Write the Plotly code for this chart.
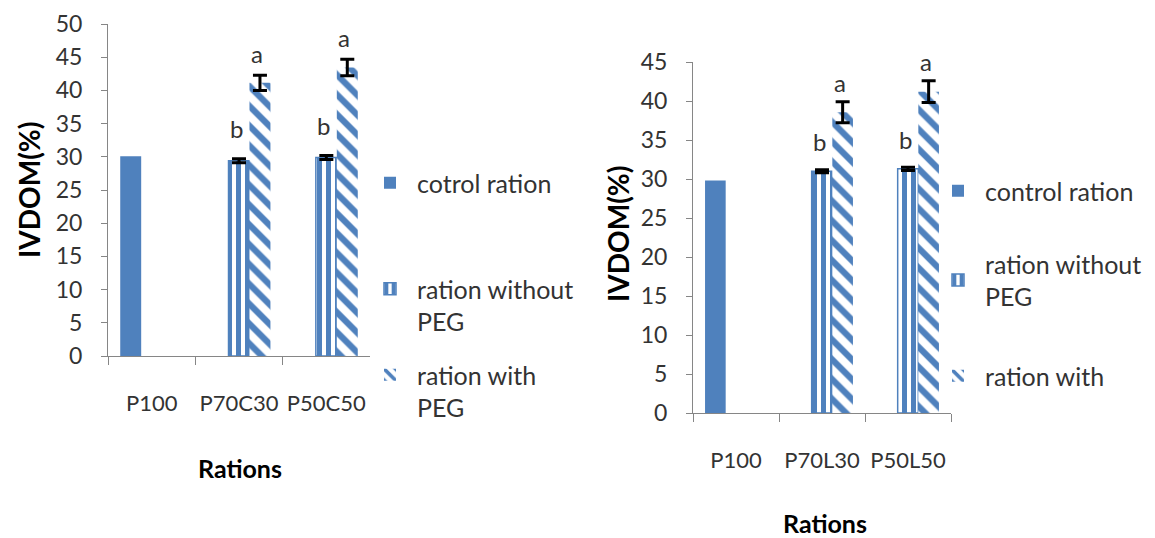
import plotly.graph_objects as go

# ---------------- data ----------------
categories_c = ["P100", "P70C30", "P50C50"]
categories_l = ["P100", "P70L30", "P50L50"]

control_c = [30.1, None, None]
without_c = [None, 29.4, 29.9]
without_c_err = [0, 0.3, 0.3]
with_c = [None, 41.15, 43.45]
with_c_err = [0, 1.15, 1.25]

control_l = [29.8, None, None]
without_l = [None, 31.0, 31.3]
without_l_err = [0, 0.2, 0.2]
with_l = [None, 38.55, 41.2]
with_l_err = [0, 1.35, 1.4]

letters_without = [None, "b", "b"]
letters_with = [None, "a", "a"]

names_c = ["cotrol ration", "ration without<br>PEG", "ration with<br>PEG"]
names_l = ["control ration", "ration without<br>PEG", "ration with"]

BLUE = "#4F81BD"
AX = "#868686"
TXT = "#333333"
FONT = "Lato"

fig = go.Figure()

def add_group(cats, ctrl, wo, wo_err, wi, wi_err, names, xa, ya, legs):
    fig.add_trace(go.Bar(x=cats, y=ctrl, name=names[0], marker=dict(color=BLUE, line=dict(width=0)),
                         xaxis=xa, yaxis=ya, legend=legs[0]))
    fig.add_trace(go.Bar(x=cats, y=wo, name=names[1],
                         marker=dict(color="white", line=dict(color=BLUE, width=1.5),
                                     pattern=dict(shape="|", fgcolor=BLUE, bgcolor="white", fgopacity=1,
                                                  size=9, solidity=0.55, fillmode="replace")),
                         error_y=dict(type="data", array=wo_err, color="black", thickness=3, width=7),
                         xaxis=xa, yaxis=ya, legend=legs[1]))
    fig.add_trace(go.Bar(x=cats, y=wi, name=names[2],
                         marker=dict(color="white", line=dict(width=0),
                                     pattern=dict(shape="\\", fgcolor=BLUE, bgcolor="white", fgopacity=1,
                                                  size=14, solidity=0.45, fillmode="replace")),
                         error_y=dict(type="data", array=wi_err, color="black", thickness=3, width=7),
                         xaxis=xa, yaxis=ya, legend=legs[2]))

add_group(categories_c, control_c, without_c, without_c_err, with_c, with_c_err, names_c,
          "x", "y", ["legend", "legend2", "legend3"])
add_group(categories_l, control_l, without_l, without_l_err, with_l, with_l_err, names_l,
          "x2", "y2", ["legend4", "legend5", "legend6"])

W, H = 1155, 538
def px_x(p):
    return p / W
def px_y(p):
    return 1 - p / H

xcommon = dict(type="category", showline=True, linecolor=AX, linewidth=1, ticks="outside",
               tickson="boundaries", ticklen=8, tickcolor=AX, showgrid=False, zeroline=False,
               tickfont=dict(family=FONT, size=22, color=TXT), ticklabelstandoff=28, tickangle=0,
               range=[-0.5, 2.5], automargin=False)
ycommon = dict(showline=True, linecolor=AX, linewidth=1, ticks="outside", ticklen=6, tickcolor=AX,
               showgrid=False, zeroline=False, dtick=5, tickfont=dict(family=FONT, size=23, color=TXT),
               ticklabelstandoff=14, automargin=False)

bargap = 0.28
slot = (1 - bargap) / 3

annotations = []
def letters(cats_len, wo, wo_err, wi, wi_err, xa, ya, ashift, bshift):
    for i in range(cats_len):
        if letters_without[i] and wo[i] is not None:
            annotations.append(dict(x=i, y=wo[i] + wo_err[i], xref=xa, yref=ya, text=letters_without[i],
                                    showarrow=False, yshift=bshift, xshift=-3,
                                    font=dict(family=FONT, size=24, color=TXT)))
        if letters_with[i] and wi[i] is not None:
            annotations.append(dict(x=i + slot, y=wi[i] + wi_err[i], xref=xa, yref=ya, text=letters_with[i],
                                    showarrow=False, yshift=ashift, xshift=-3,
                                    font=dict(family=FONT, size=24, color=TXT)))

letters(3, without_c, without_c_err, with_c, with_c_err, "x", "y", 22, 30)
letters(3, without_l, without_l_err, with_l, with_l_err, "x2", "y2", 19, 28)

titlefont = dict(family=FONT, size=25, color="black", weight="bold")
def title_ann(text, xp, yp, angle=0, size=25):
    return dict(text=text, x=px_x(xp), y=px_y(yp), xref="paper", yref="paper", textangle=angle,
                xanchor="center", yanchor="middle", showarrow=False, font=dict(titlefont, size=size))

annotations += [
    title_ann("IVDOM(%)", 29, 190, -90, 28),
    title_ann("IVDOM(%)", 618, 234, -90, 28),
    title_ann("Rations", 240, 468),
    title_ann("Rations", 825, 523),
]

legfont = dict(family=FONT, size=25, color=TXT)
def leg(xp, yp, yanchor="middle", valign="middle"):
    return dict(x=px_x(xp), y=px_y(yp), xanchor="left", yanchor=yanchor, valign=valign,
                font=legfont, bgcolor="rgba(0,0,0,0)", borderwidth=0, itemwidth=44)

fig.update_layout(
    width=W, height=H, margin=dict(l=0, r=0, t=0, b=0, autoexpand=False),
    paper_bgcolor="white", plot_bgcolor="white",
    barmode="group", bargap=bargap, bargroupgap=0.0,
    showlegend=True,
    xaxis=dict(xcommon, domain=[px_x(108), px_x(370)], anchor="y"),
    yaxis=dict(ycommon, domain=[px_y(356), px_y(24)], anchor="x", range=[0, 50]),
    xaxis2=dict(xcommon, domain=[px_x(693), px_x(951)], anchor="y2"),
    yaxis2=dict(ycommon, domain=[px_y(413), px_y(62)], anchor="x2", range=[0, 45]),
    legend=leg(363, 183),
    legend2=leg(363, 266, yanchor="top", valign="top"),
    legend3=leg(363, 352, yanchor="top", valign="top"),
    legend4=leg(931, 191),
    legend5=leg(931, 280),
    legend6=leg(931, 376),
    annotations=annotations,
)

fig.write_html("out.html")
